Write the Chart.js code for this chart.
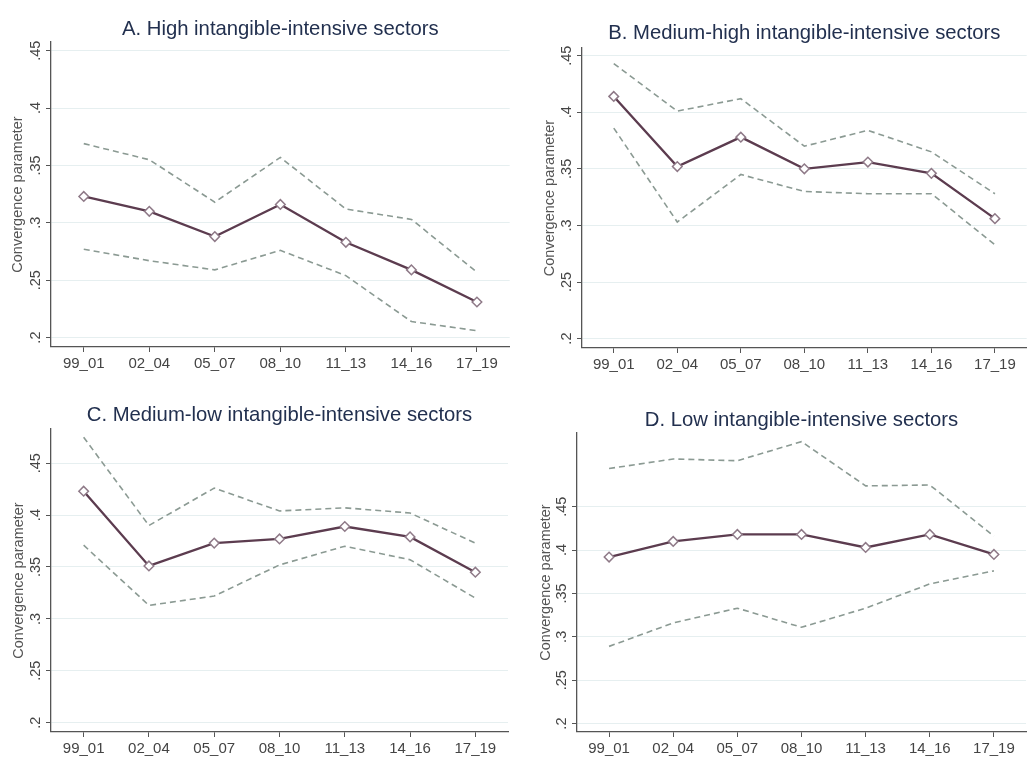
<!DOCTYPE html>
<html>
<head>
<meta charset="utf-8">
<title>Convergence parameter by intangible intensity</title>
<script src="https://cdn.jsdelivr.net/npm/chart.js@4"></script>
<style>
  body { margin: 0; background: #fff; }
  #wrap { position: relative; width: 1033px; height: 760px; }
  .panel { position: absolute; }
</style>
</head>
<body>
<div id="wrap">
  <canvas id="panelA" class="panel" width="516" height="380" style="left:0;top:0"></canvas>
  <canvas id="panelB" class="panel" width="517" height="380" style="left:516px;top:0"></canvas>
  <canvas id="panelC" class="panel" width="516" height="380" style="left:0;top:380px"></canvas>
  <canvas id="panelD" class="panel" width="517" height="380" style="left:516px;top:380px"></canvas>
</div>
<script>
// periods on the x axis
const periods = ['99_01', '02_04', '05_07', '08_10', '11_13', '14_16', '17_19'];

// y ticks and how they are printed
const tickValues = [0.2, 0.25, 0.3, 0.35, 0.4, 0.45];
const tickLabels = ['.2', '.25', '.3', '.35', '.4', '.45'];

// A. High intangible-intensive sectors
const highEst = [0.323, 0.310, 0.288, 0.316, 0.283, 0.259, 0.231];
const highUpper = [0.369, 0.355, 0.318, 0.357, 0.312, 0.303, 0.257];
const highLower = [0.277, 0.267, 0.259, 0.276, 0.254, 0.214, 0.206];

// B. Medium-high intangible-intensive sectors
const medHighEst = [0.414, 0.352, 0.378, 0.350, 0.356, 0.346, 0.306];
const medHighUpper = [0.443, 0.401, 0.412, 0.370, 0.384, 0.365, 0.328];
const medHighLower = [0.386, 0.303, 0.345, 0.330, 0.328, 0.328, 0.283];

// C. Medium-low intangible-intensive sectors
const medLowEst = [0.423, 0.351, 0.373, 0.377, 0.389, 0.379, 0.345];
const medLowUpper = [0.475, 0.390, 0.426, 0.404, 0.407, 0.402, 0.373];
const medLowLower = [0.371, 0.313, 0.322, 0.352, 0.370, 0.357, 0.320];

// D. Low intangible-intensive sectors
const lowEst = [0.392, 0.410, 0.418, 0.418, 0.403, 0.418, 0.395];
const lowUpper = [0.494, 0.505, 0.503, 0.525, 0.474, 0.475, 0.416];
const lowLower = [0.289, 0.316, 0.333, 0.311, 0.333, 0.361, 0.376];

const FONT = "'Liberation Sans', Arial, sans-serif";

function makePanel(id, title, est, upper, lower, yMin, yMax, box) {
  const dashed = (data) => ({
    data: data,
    borderColor: '#8b9a93',
    borderWidth: 1.6,
    borderDash: [6, 4],
    pointRadius: 0,
    tension: 0,
    fill: false
  });

  return new Chart(document.getElementById(id), {
    type: 'line',
    data: {
      labels: periods,
      datasets: [
        {
          data: est,
          borderColor: '#5c3c4f',
          borderWidth: 2.3,
          pointStyle: 'rectRot',
          pointRadius: 4.8,
          pointBackgroundColor: '#ffffff',
          pointBorderColor: '#8f7a88',
          pointBorderWidth: 1.5,
          tension: 0,
          fill: false
        },
        dashed(upper),
        dashed(lower)
      ]
    },
    options: {
      responsive: false,
      animation: false,
      layout: { padding: { left: 0, right: box.right, top: 0, bottom: 0 } },
      plugins: {
        legend: { display: false },
        tooltip: { enabled: false },
        title: {
          display: true,
          text: title,
          fullSize: false,
          color: '#22304f',
          font: { family: FONT, size: 20.3, weight: 'normal' },
          padding: { top: box.titleTop, bottom: box.titleBottom }
        }
      },
      scales: {
        x: {
          offset: true,
          grid: { drawOnChartArea: false, tickLength: 5, tickColor: '#555', tickWidth: 1 },
          border: { color: '#555', width: 1.3 },
          ticks: { color: '#444', padding: 3, font: { family: FONT, size: 15 }, maxRotation: 0, autoSkip: false },
          afterFit: (scale) => { scale.height = box.xHeight; }
        },
        y: {
          min: yMin,
          max: yMax,
          afterBuildTicks: (scale) => { scale.ticks = tickValues.map(v => ({ value: v })); },
          grid: { color: '#e6eff0', lineWidth: 1, tickLength: 5, tickColor: '#555' },
          border: { color: '#555', width: 1.3 },
          ticks: {
            color: '#444',
            padding: 0,
            crossAlign: 'center',
            minRotation: 90,
            maxRotation: 90,
            font: { family: FONT, size: 14.5 },
            callback: (v) => tickLabels[tickValues.findIndex(t => Math.abs(t - v) < 1e-9)]
          },
          title: {
            display: true,
            text: 'Convergence parameter',
            color: '#555',
            font: { family: FONT, size: 14.5 },
            padding: { top: box.yTitle, bottom: 0 }
          },
          afterFit: (scale) => { scale.width = box.left; }
        }
      }
    }
  });
}

makePanel('panelA', 'A. High intangible-intensive sectors', highEst, highUpper, highLower, 0.1918, 0.4576,
  { left: 51, right: 5, xHeight: 33, titleTop: 16.8, titleBottom: 0.8, yTitle: 9.5 });
makePanel('panelB', 'B. Medium-high intangible-intensive sectors', medHighEst, medHighUpper, medHighLower, 0.1917, 0.4568,
  { left: 66, right: 0, xHeight: 32, titleTop: 20.8, titleBottom: 2.8, yTitle: 24.8 });
makePanel('panelC', 'C. Medium-low intangible-intensive sectors', medLowEst, medLowUpper, medLowLower, 0.191, 0.483,
  { left: 51, right: 8, xHeight: 28, titleTop: 22.8, titleBottom: 1.8, yTitle: 9.8 });
makePanel('panelD', 'D. Low intangible-intensive sectors', lowEst, lowUpper, lowLower, 0.1903, 0.535,
  { left: 61, right: 7, xHeight: 28, titleTop: 27.8, titleBottom: 0.8, yTitle: 20.8 });
</script>
</body>
</html>
